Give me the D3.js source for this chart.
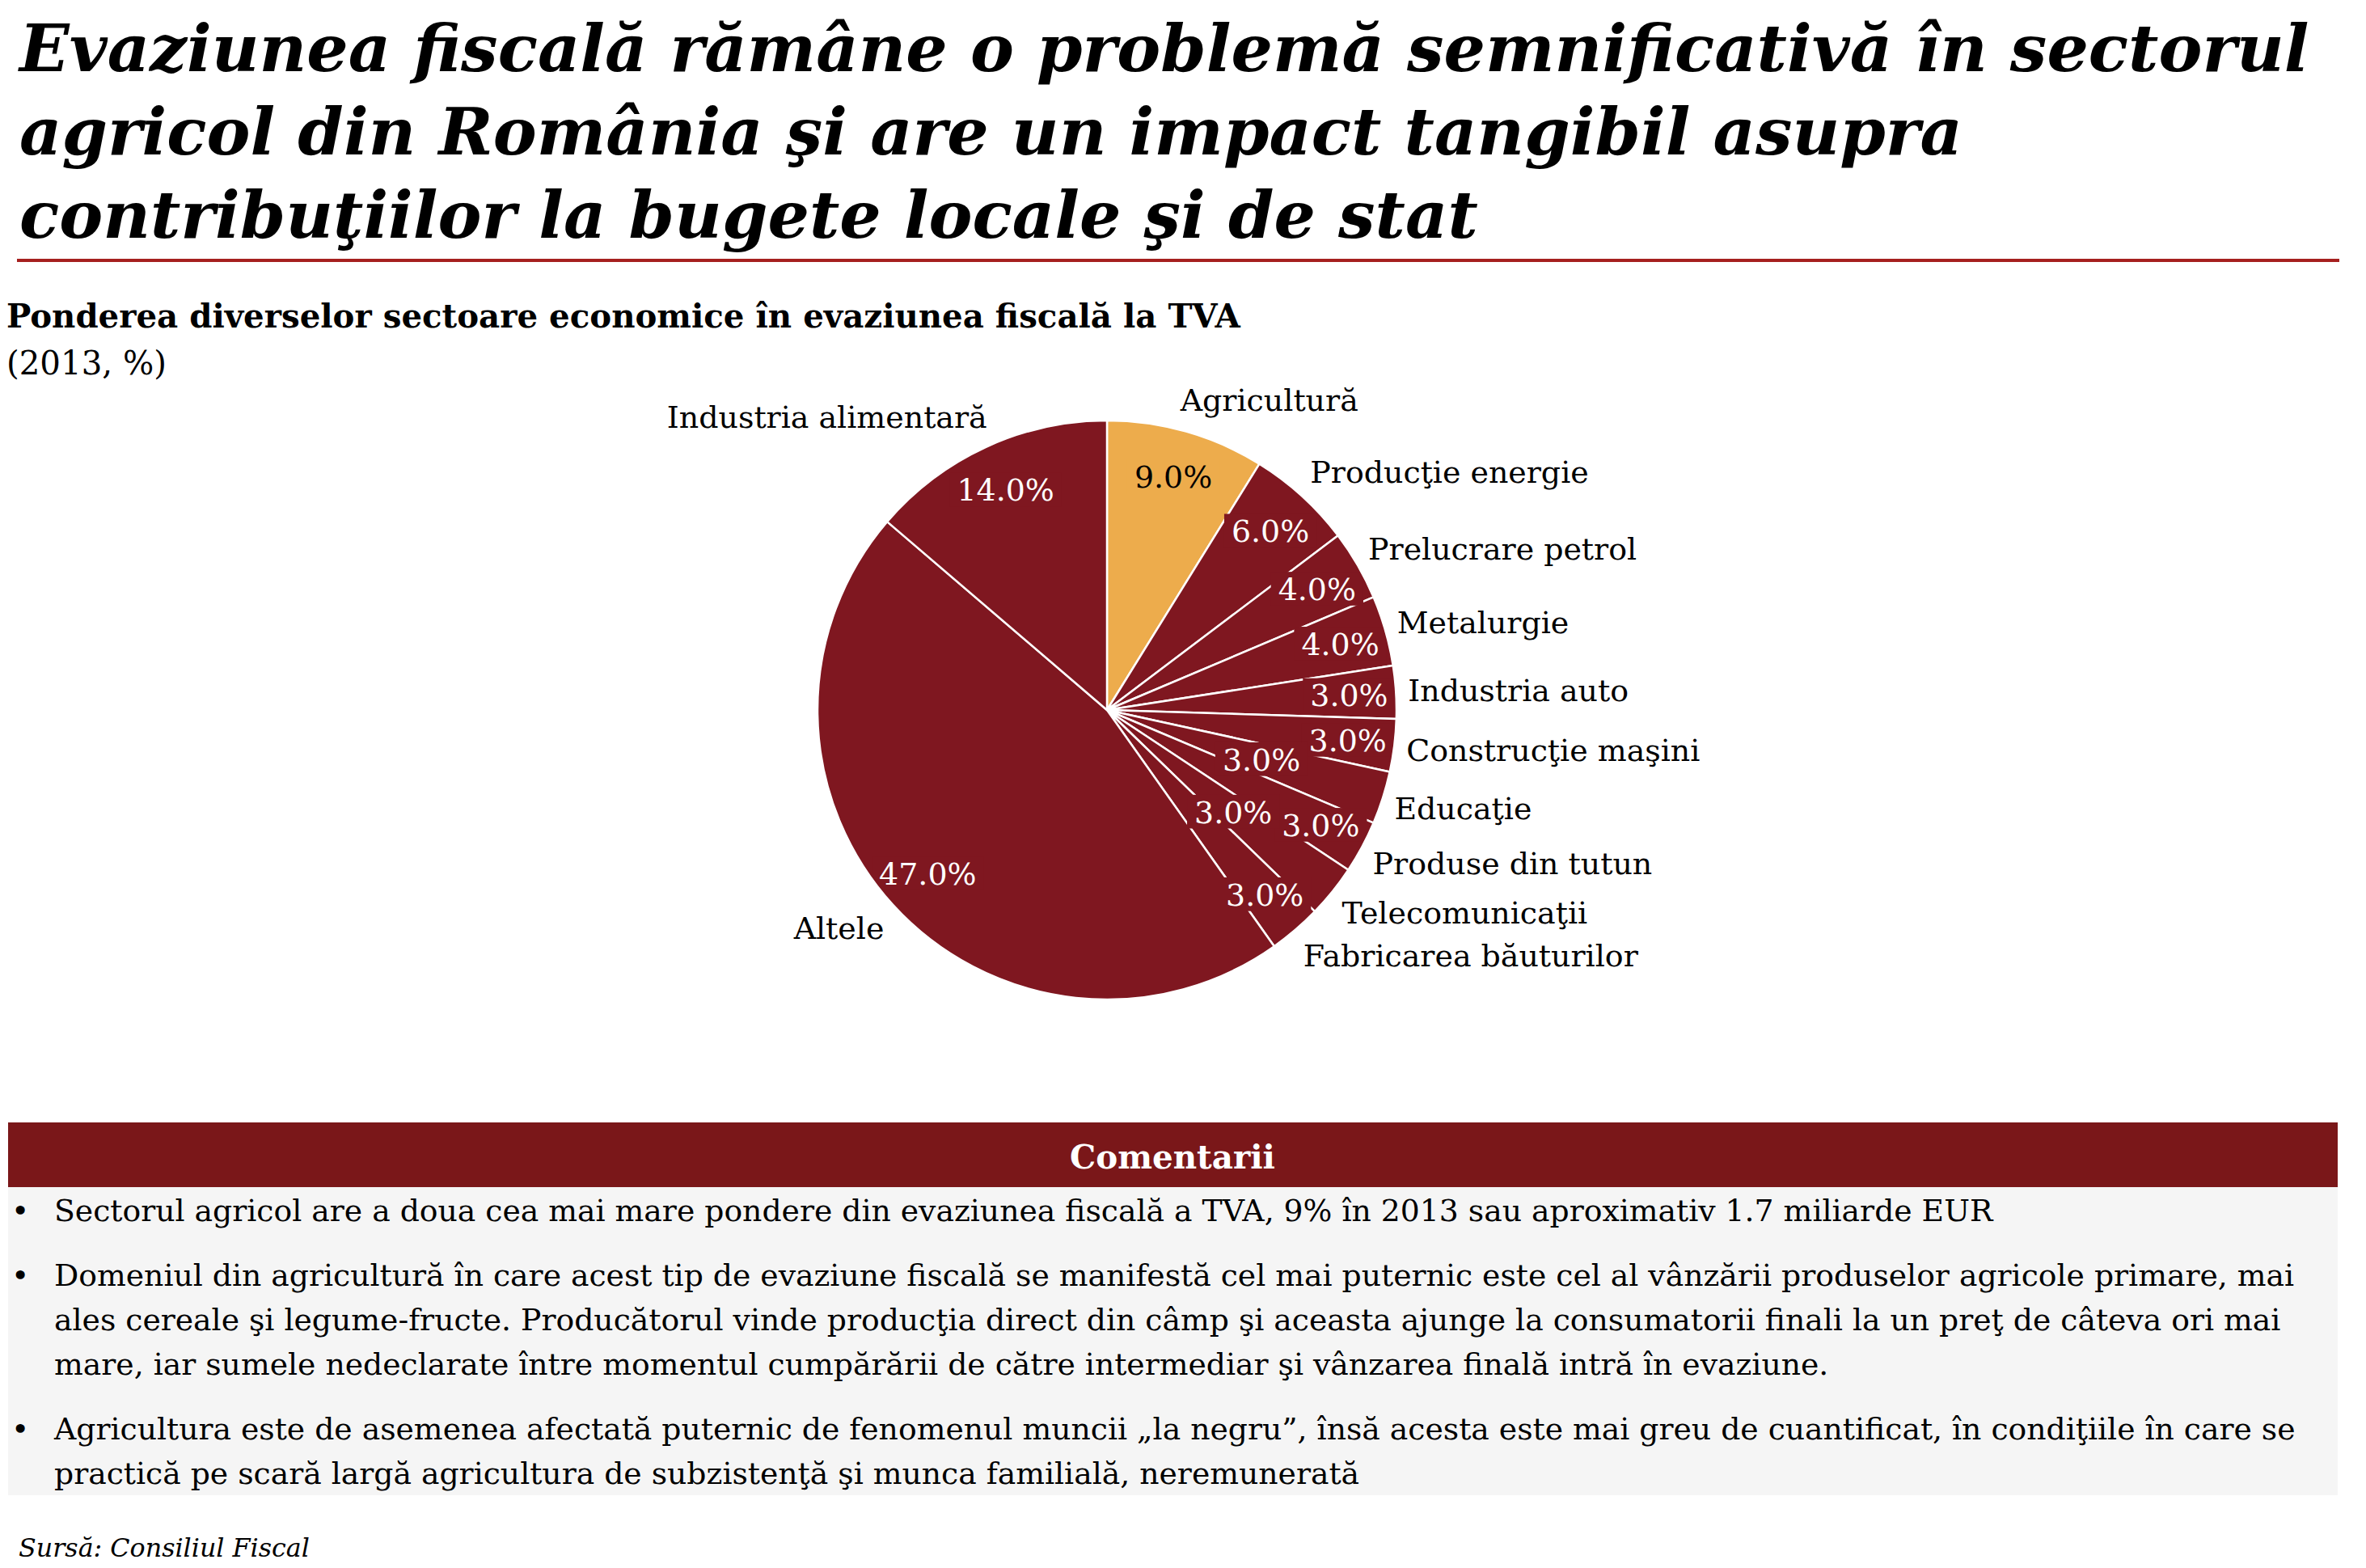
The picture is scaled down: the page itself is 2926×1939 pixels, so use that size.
<!DOCTYPE html>
<html><head><meta charset="utf-8">
<script src="https://cdn.jsdelivr.net/npm/d3@7"></script>
<style>body{margin:0;background:#fff} svg{display:block}</style>
</head><body>
<script>
// ---------- data ----------
const categories = ["Agricultură","Producţie energie","Prelucrare petrol","Metalurgie","Industria auto","Construcţie maşini","Educaţie","Produse din tutun","Telecomunicaţii","Fabricarea băuturilor","Altele","Industria alimentară"];
const values = [9, 6, 4, 4, 3, 3, 3, 3, 3, 3, 47, 14];
const highlighted = ["Agricultură"];
const titleLines = [
  "Evaziunea fiscală rămâne o problemă semnificativă în sectorul",
  "agricol din România şi are un impact tangibil asupra",
  "contribuţiilor la bugete locale şi de stat"
];
const subtitle = "Ponderea diverselor sectoare economice în evaziunea fiscală la TVA";
const subtitleNote = "(2013, %)";
const commentsTitle = "Comentarii";
const comments = [
  ["Sectorul agricol are a doua cea mai mare pondere din evaziunea fiscală a TVA, 9% în 2013 sau aproximativ 1.7 miliarde EUR"],
  ["Domeniul din agricultură în care acest tip de evaziune fiscală se manifestă cel mai puternic este cel al vânzării produselor agricole primare, mai",
   "ales cereale şi legume-fructe. Producătorul vinde producţia direct din câmp şi aceasta ajunge la consumatorii finali la un preţ de câteva ori mai",
   "mare, iar sumele nedeclarate între momentul cumpărării de către intermediar şi vânzarea finală intră în evaziune."],
  ["Agricultura este de asemenea afectată puternic de fenomenul muncii „la negru”, însă acesta este mai greu de cuantificat, în condiţiile în care se",
   "practică pe scară largă agricultura de subzistenţă şi munca familială, neremunerată"]
];
const source = "Sursă: Consiliul Fiscal";

// ---------- setup ----------
const W = 2926, H = 1939;
const FONT = "'DejaVu Serif', Georgia, serif";
const DARK = "#7f1720", ORANGE = "#edac4c", BAR = "#7a1719", RULE = "#a6201f";
const svg = d3.select("body").append("svg").attr("width", W).attr("height", H)
  .style("font-family", FONT);

function fit(sel, w) {
  const fs = parseFloat(sel.attr("font-size"));
  const cw = sel.node().getComputedTextLength();
  const nf = fs * w / cw;
  sel.attr("font-size", nf);
  return nf;
}

// ---------- title ----------
const tBase = [88, 191, 294];
const tSel = svg.selectAll("text.title").data(titleLines).join("text")
  .attr("class", "title").attr("x", 24).attr("y", (d, i) => tBase[i])
  .attr("font-size", 80).attr("font-weight", "bold").attr("font-style", "italic")
  .attr("fill", "#000").text(d => d);
const tfs = fit(d3.select(tSel.nodes()[0]), 2832);
tSel.attr("font-size", tfs);

svg.append("line").attr("x1", 21).attr("x2", 2893).attr("y1", 322).attr("y2", 322)
  .attr("stroke", RULE).attr("stroke-width", 4);

// ---------- subtitle ----------
const st = svg.append("text").attr("x", 8).attr("y", 405).attr("font-size", 36)
  .attr("font-weight", "bold").text(subtitle);
const sfs = fit(st, 1526);
svg.append("text").attr("x", 8).attr("y", 463).attr("font-size", sfs).text(subtitleNote);

// ---------- pie ----------
const cx = 1369, cy = 878, R = 358;
const data = categories.map((c, i) => ({ name: c, value: values[i] }));
const pie = d3.pie().sort(null).value(d => d.value).startAngle(0).endAngle(2 * Math.PI);
const arcs = pie(data);
const arc = d3.arc().innerRadius(0).outerRadius(R);
const g = svg.append("g").attr("transform", `translate(${cx},${cy})`);
const colorOf = d => highlighted.includes(d.data.name) ? ORANGE : DARK;

svg.append("defs").append("clipPath").attr("id", "pieclip")
  .append("circle").attr("r", R - 2);

g.selectAll("path.slice").data(arcs).join("path").attr("class", "slice")
  .attr("d", arc).attr("fill", colorOf).attr("stroke", "#fff").attr("stroke-width", 2.5)
  .attr("stroke-linejoin", "round");

// label font size from outer label width
const probe = svg.append("text").attr("font-size", 36).text("Industria alimentară");
const lfs = fit(probe, 396);
probe.remove();
const capH = lfs * 0.73;

const mid = d => (d.startAngle + d.endAngle) / 2;
const polar = (a, r) => [r * Math.sin(a), -r * Math.cos(a)];

// inner percentage labels with simple collision avoidance
const placed = [];
const rectG = g.append("g").attr("clip-path", "url(#pieclip)");
const innerG = g.append("g");
const HALF_BOX = 27.3;
arcs.forEach(d => {
  const a = mid(d);
  const txt = d.value.toFixed(1) + "%";
  const t = innerG.append("text").attr("font-size", lfs).attr("text-anchor", "middle")
    .attr("fill", highlighted.includes(d.data.name) ? "#000" : "#fff").text(txt);
  const w = t.node().getComputedTextLength();
  const h = capH;
  let [x, y] = polar(a, R * 0.838);
  const cbox = (x, y) => ({ x0: x - w / 2, x1: x + w / 2, y0: y - HALF_BOX, y1: y + HALF_BOX });
  const hit = bb => placed.some(p => !(bb.x1 < p.x0 || bb.x0 > p.x1 || bb.y1 < p.y0 || bb.y0 > p.y1));
  if (hit(cbox(x, y))) { [x, y] = polar(a, R * 0.56); }
  placed.push(cbox(x, y));
  rectG.append("rect").attr("x", x - w / 2 - 9).attr("y", y - h / 2 - 7)
    .attr("width", w + 18).attr("height", h + 14).attr("fill", colorOf(d));
  t.attr("x", x).attr("y", y + h / 2);
});

// outer category labels
g.selectAll("text.cat").data(arcs).join("text").attr("class", "cat")
  .attr("font-size", lfs).attr("fill", "#000")
  .attr("text-anchor", d => mid(d) < Math.PI ? "start" : "end")
  .attr("x", d => polar(mid(d), R + 15)[0] - 14 * Math.sign(Math.sin(mid(d))) * Math.max(0, Math.cos(mid(d)) - 0.8) / 0.2)
  .attr("y", d => polar(mid(d), R + 15)[1] - 26 * Math.cos(mid(d)) + capH / 2)
  .text(d => d.data.name);

// ---------- comments ----------
svg.append("rect").attr("x", 10).attr("y", 1388).attr("width", 2881).attr("height", 80).attr("fill", BAR);
svg.append("rect").attr("x", 10).attr("y", 1468).attr("width", 2881).attr("height", 381).attr("fill", "#f5f5f5");
const ct = svg.append("text").attr("x", 1450).attr("y", 1445).attr("text-anchor", "middle")
  .attr("font-size", 36).attr("font-weight", "bold").attr("fill", "#fff").text(commentsTitle);
fit(ct, 254);

const bodyBase = [[1510], [1590, 1645, 1700], [1780, 1835]];
const probe2 = svg.append("text").attr("font-size", 36).text(comments[0][0]);
const bfs = fit(probe2, 2398);
probe2.remove();
comments.forEach((lines, i) => {
  svg.append("text").attr("x", 14).attr("y", bodyBase[i][0]).attr("font-size", bfs).text("•");
  lines.forEach((ln, j) => {
    svg.append("text").attr("x", 67).attr("y", bodyBase[i][j]).attr("font-size", bfs).text(ln);
  });
});

const src = svg.append("text").attr("x", 23).attr("y", 1925).attr("font-size", 30)
  .attr("font-style", "italic").text(source);
fit(src, 360);
</script>
</body></html>
